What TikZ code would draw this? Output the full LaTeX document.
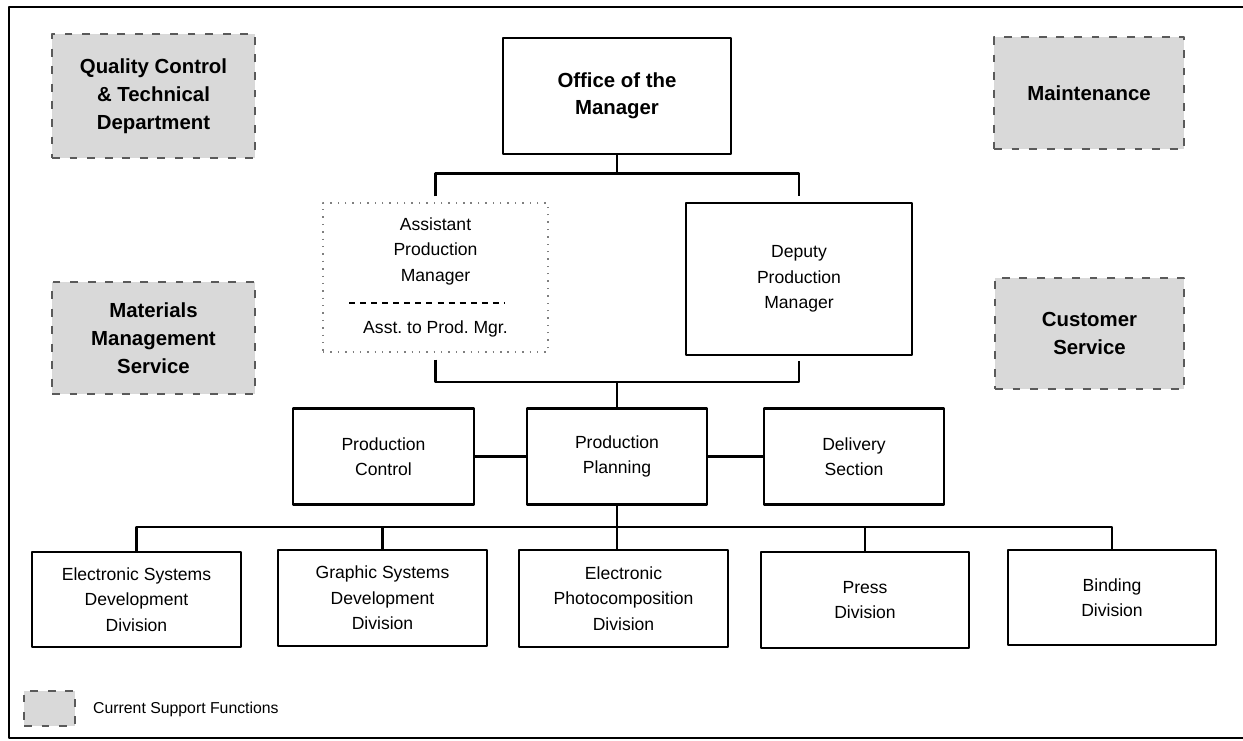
\documentclass[tikz,border=0pt]{standalone}
\usepackage{fontspec}
\setmainfont{Liberation Sans}
\frenchspacing
\definecolor{supfill}{HTML}{D9D9D9}
\definecolor{supline}{HTML}{5A5A5A}
\definecolor{dotline}{HTML}{7F7F7F}
\begin{document}
\begin{tikzpicture}[x=0.02cm,y=-0.02cm,line join=round,font=\fontsize{10}{14.5}\selectfont,
	sz/.style 2 args={minimum width=#1*0.02cm,minimum height=#2*0.02cm},
	box/.style={draw,line width=1.15pt,align=center,inner sep=0pt},
	supbox/.style={draw=supline,fill=supfill,line width=0.6pt,dash pattern=on 4.5pt off 5.5pt,align=center,inner sep=0pt,font=\fontsize{11.6}{16}\selectfont\bfseries},
	asstbox/.style={draw=dotline,line width=0.7pt,dash pattern=on 0.8pt off 3.4pt,align=center,inner sep=0pt},
	conn/.style={line width=1.2pt}]
	\useasboundingbox (0,0) rectangle (1243,740);
	\draw[line width=1.3pt] (9,7) rectangle (1252,738);
	\node[box,sz={228}{116},font=\fontsize{11.6}{15.5}\selectfont\bfseries] (office) at (617,96) {Office of the\\Manager};
	\node[asstbox,sz={225}{149}] (asst) at (435.5,277.5) {Assistant\\Production\\Manager\\[15.5pt]Asst. to Prod. Mgr.};
	\node[box,sz={226}{152}] (deputy) at (799,279) {Deputy\\Production\\Manager};
	\node[box,sz={181}{96}] (ctrl) at (383.5,456.5) {Production\\Control};
	\node[box,sz={180}{96}] (plan) at (617,456.5) {Production\\Planning};
	\node[box,sz={180}{96}] (deliv) at (854,456.5) {Delivery\\Section};
	\node[box,sz={209}{95}] (esd) at (136.5,599.5) {Electronic Systems\\Development\\Division};
	\node[box,sz={209}{96}] (gsd) at (382.5,598) {Graphic Systems\\Development\\Division};
	\node[box,sz={209}{97}] (epd) at (623.5,598.5) {Electronic\\Photocomposition\\Division};
	\node[box,sz={208}{96}] (press) at (865,600) {Press\\Division};
	\node[box,sz={208}{95}] (bind) at (1112,597.5) {Binding\\Division};
	\node[supbox,sz={203}{124}] (qual) at (153.5,96) {Quality Control\\\& Technical\\Department};
	\node[supbox,sz={190}{112}] (maint) at (1089,93) {Maintenance};
	\node[supbox,sz={203}{112}] (matl) at (153.5,338) {Materials\\Management\\Service};
	\node[supbox,sz={189}{111}] (cust) at (1089.5,333.5) {Customer\\Service};
	\node[supbox,sz={51}{35}] (key) at (49.5,708.5) {};
	\node[anchor=west,font=\fontsize{9}{11}\selectfont] (keytext) at (87,709) {Current Support Functions};
	\draw[line width=0.7pt,dash pattern=on 3.4pt off 2.9pt] (349,303) -- (504,303);
	\coordinate (topbar) at (617,173.5);
	\coordinate (midbar) at (617,382);
	\coordinate (lowbar) at (617,527);
	\draw[conn] (office) -- (topbar);
	\draw[conn] ([yshift=0.12cm]asst.north) -- (asst.north |- topbar) -- (deputy.north |- topbar) -- ([yshift=0.12cm]deputy.north);
	\draw[conn] ([yshift=-0.14cm]asst.south) -- (asst.south |- midbar) -- (deputy.south |- midbar) -- ([yshift=-0.1cm]deputy.south);
	\draw[conn] (midbar) -- (plan);
	\draw[conn] (ctrl) -- (plan) -- (deliv);
	\draw[conn] (plan) -- (plan |- epd.north);
	\draw[conn] (esd) -- (esd |- lowbar) -- (bind |- lowbar) -- (bind);
	\draw[conn] (gsd) -- (gsd |- lowbar);
	\draw[conn] (press) -- (press |- lowbar);
\end{tikzpicture}
\end{document}
